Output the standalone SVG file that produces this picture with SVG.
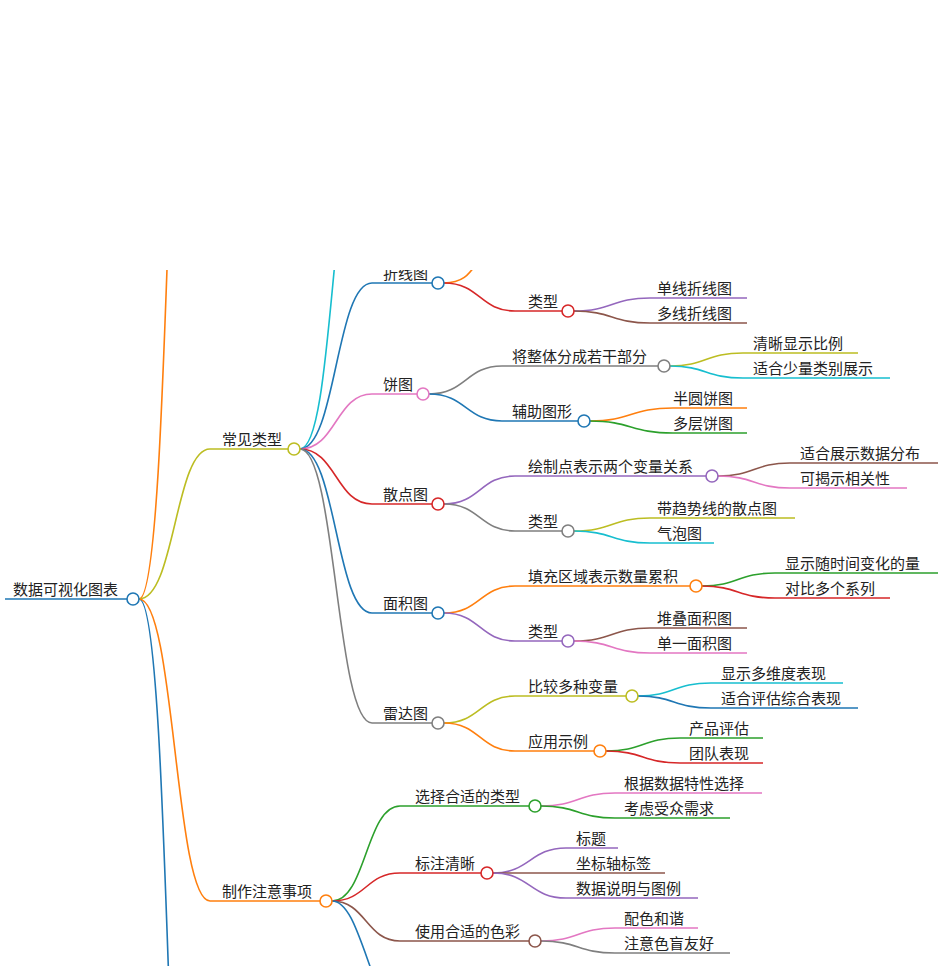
<svg xmlns="http://www.w3.org/2000/svg" width="944" height="966" viewBox="0 0 944 966">
<style>
text{font-family:"Noto Sans CJK SC","Liberation Sans",sans-serif;font-size:15px;fill:#222}
path{fill:none;stroke-width:1.6}
circle{fill:#fff;stroke-width:1.6}
.b{stroke:#1f77b4}.o{stroke:#ff7f0e}.g{stroke:#2ca02c}.r{stroke:#d62728}.p{stroke:#9467bd}.n{stroke:#8c564b}.k{stroke:#e377c2}.y{stroke:#7f7f7f}.l{stroke:#bcbd22}.c{stroke:#17becf}
</style>
<rect width="944" height="966" fill="#fff"/>
<g id="connectors">
<path class="o" d="M139,599 C175,599 165,-300 210,-300"/>
<path class="b" d="M139,599 C175,599 165,1500 210,1500"/>
<path class="l" d="M139,599 C175,599 175,449 210,449 H288"/>
<path class="o" d="M139,599 C175,599 175,901 210,901 H320"/>
<path class="c" d="M300,449 C336,449 330,100 372,100"/>
<path class="b" d="M300,449 C336,449 336,283 372,283 H432"/>
<path class="k" d="M300,449 C336,449 336,394 372,394 H417"/>
<path class="r" d="M300,449 C336,449 336,504 372,504 H432"/>
<path class="b" d="M300,449 C336,449 336,613 372,613 H432"/>
<path class="y" d="M300,449 C336,449 336,723 372,723 H432"/>
<path class="o" d="M444,283 C480,283 470,250 505,245"/>
<path class="r" d="M444,283 C480,283 480,311 515,311 H562"/>
<path class="p" d="M574,311 C612,311 612,298 650,298 H747"/>
<path class="n" d="M574,311 C612,311 612,323 650,323 H747"/>
<path class="y" d="M429,394 C466,394 466,366 502,366 H658"/>
<path class="b" d="M429,394 C466,394 466,421 502,421 H578"/>
<path class="l" d="M670,366 C706,366 706,353 743,353 H858"/>
<path class="c" d="M670,366 C706,366 706,378 743,378 H890"/>
<path class="o" d="M590,421 C631,421 631,408 673,408 H747"/>
<path class="g" d="M590,421 C631,421 631,433 673,433 H747"/>
<path class="p" d="M444,504 C480,504 480,476 515,476 H706"/>
<path class="y" d="M444,504 C480,504 480,531 515,531 H562"/>
<path class="n" d="M718,476 C754,476 754,463 790,463 H938"/>
<path class="k" d="M718,476 C754,476 754,488 790,488 H907"/>
<path class="l" d="M574,531 C612,531 612,518 650,518 H795"/>
<path class="c" d="M574,531 C612,531 612,543 650,543 H714"/>
<path class="o" d="M444,613 C480,613 480,586 515,586 H690"/>
<path class="p" d="M444,613 C480,613 480,641 515,641 H562"/>
<path class="g" d="M702,586 C738,586 738,573 775,573 H938"/>
<path class="r" d="M702,586 C738,586 738,598 775,598 H890"/>
<path class="n" d="M574,641 C612,641 612,628 650,628 H747"/>
<path class="k" d="M574,641 C612,641 612,653 650,653 H747"/>
<path class="l" d="M444,723 C480,723 480,696 515,696 H626"/>
<path class="o" d="M444,723 C480,723 480,751 515,751 H594"/>
<path class="c" d="M638,696 C674,696 674,683 711,683 H843"/>
<path class="b" d="M638,696 C674,696 674,708 711,708 H858"/>
<path class="g" d="M606,751 C643,751 643,738 680,738 H763"/>
<path class="r" d="M606,751 C643,751 643,763 680,763 H763"/>
<path class="g" d="M332,901 C366,901 366,806 400,806 H529"/>
<path class="r" d="M332,901 C366,901 366,873 400,873 H481"/>
<path class="n" d="M332,901 C366,901 366,941 400,941 H529"/>
<path class="b" d="M332,901 C350,901 360,940 375,980"/>
<path class="k" d="M541,806 C578,806 578,793 615,793 H762"/>
<path class="g" d="M541,806 C578,806 578,818 615,818 H730"/>
<path class="p" d="M493,873 C530,873 530,848 566,848 H618"/>
<path class="n" d="M493,873 H665"/>
<path class="p" d="M493,873 C530,873 530,898 566,898 H698"/>
<path class="k" d="M541,941 C578,941 578,928 615,928 H698"/>
<path class="y" d="M541,941 C578,941 578,953 615,953 H730"/>
</g>
<g id="root"><path d="M5,599 H127" stroke="#1f77b4" stroke-width="4"/><circle cx="133" cy="599" r="6" class="b"/><text x="13" y="595">数据可视化图表</text></g>
<g id="n1"><circle cx="294" cy="449" r="6" class="l"/><text x="222" y="445">常见类型</text></g>
<g id="n2"><circle cx="438" cy="283" r="6" class="b"/><text x="383" y="279">折线图</text></g>
<g id="n3"><circle cx="568" cy="311" r="6" class="r"/><text x="528" y="307">类型</text></g>
<g id="n4"><text x="657" y="294">单线折线图</text></g>
<g id="n5"><text x="657" y="319">多线折线图</text></g>
<g id="n6"><circle cx="423" cy="394" r="6" class="k"/><text x="383" y="390">饼图</text></g>
<g id="n7"><circle cx="664" cy="366" r="6" class="y"/><text x="512" y="362">将整体分成若干部分</text></g>
<g id="n8"><text x="753" y="349">清晰显示比例</text></g>
<g id="n9"><text x="753" y="374">适合少量类别展示</text></g>
<g id="n10"><circle cx="584" cy="421" r="6" class="b"/><text x="512" y="417">辅助图形</text></g>
<g id="n11"><text x="673" y="404">半圆饼图</text></g>
<g id="n12"><text x="673" y="429">多层饼图</text></g>
<g id="n13"><circle cx="438" cy="504" r="6" class="r"/><text x="383" y="500">散点图</text></g>
<g id="n14"><circle cx="712" cy="476" r="6" class="p"/><text x="528" y="472">绘制点表示两个变量关系</text></g>
<g id="n15"><text x="800" y="459">适合展示数据分布</text></g>
<g id="n16"><text x="800" y="484">可揭示相关性</text></g>
<g id="n17"><circle cx="568" cy="531" r="6" class="y"/><text x="528" y="527">类型</text></g>
<g id="n18"><text x="657" y="514">带趋势线的散点图</text></g>
<g id="n19"><text x="657" y="539">气泡图</text></g>
<g id="n20"><circle cx="438" cy="613" r="6" class="b"/><text x="383" y="609">面积图</text></g>
<g id="n21"><circle cx="696" cy="586" r="6" class="o"/><text x="528" y="582">填充区域表示数量累积</text></g>
<g id="n22"><text x="785" y="569">显示随时间变化的量</text></g>
<g id="n23"><text x="785" y="594">对比多个系列</text></g>
<g id="n24"><circle cx="568" cy="641" r="6" class="p"/><text x="528" y="637">类型</text></g>
<g id="n25"><text x="657" y="624">堆叠面积图</text></g>
<g id="n26"><text x="657" y="649">单一面积图</text></g>
<g id="n27"><circle cx="438" cy="723" r="6" class="y"/><text x="383" y="719">雷达图</text></g>
<g id="n28"><circle cx="632" cy="696" r="6" class="l"/><text x="528" y="692">比较多种变量</text></g>
<g id="n29"><text x="721" y="679">显示多维度表现</text></g>
<g id="n30"><text x="721" y="704">适合评估综合表现</text></g>
<g id="n31"><circle cx="600" cy="751" r="6" class="o"/><text x="528" y="747">应用示例</text></g>
<g id="n32"><text x="689" y="734">产品评估</text></g>
<g id="n33"><text x="689" y="759">团队表现</text></g>
<g id="n34"><circle cx="326" cy="901" r="6" class="o"/><text x="222" y="897">制作注意事项</text></g>
<g id="n35"><circle cx="535" cy="806" r="6" class="g"/><text x="415" y="802">选择合适的类型</text></g>
<g id="n36"><text x="624" y="789">根据数据特性选择</text></g>
<g id="n37"><text x="624" y="814">考虑受众需求</text></g>
<g id="n38"><circle cx="487" cy="873" r="6" class="r"/><text x="415" y="869">标注清晰</text></g>
<g id="n39"><text x="576" y="844">标题</text></g>
<g id="n40"><text x="576" y="869">坐标轴标签</text></g>
<g id="n41"><text x="576" y="894">数据说明与图例</text></g>
<g id="n42"><circle cx="535" cy="941" r="6" class="n"/><text x="415" y="937">使用合适的色彩</text></g>
<g id="n43"><text x="624" y="924">配色和谐</text></g>
<g id="n44"><text x="624" y="949">注意色盲友好</text></g>
<rect width="944" height="270" fill="#fff"/>
</svg>
